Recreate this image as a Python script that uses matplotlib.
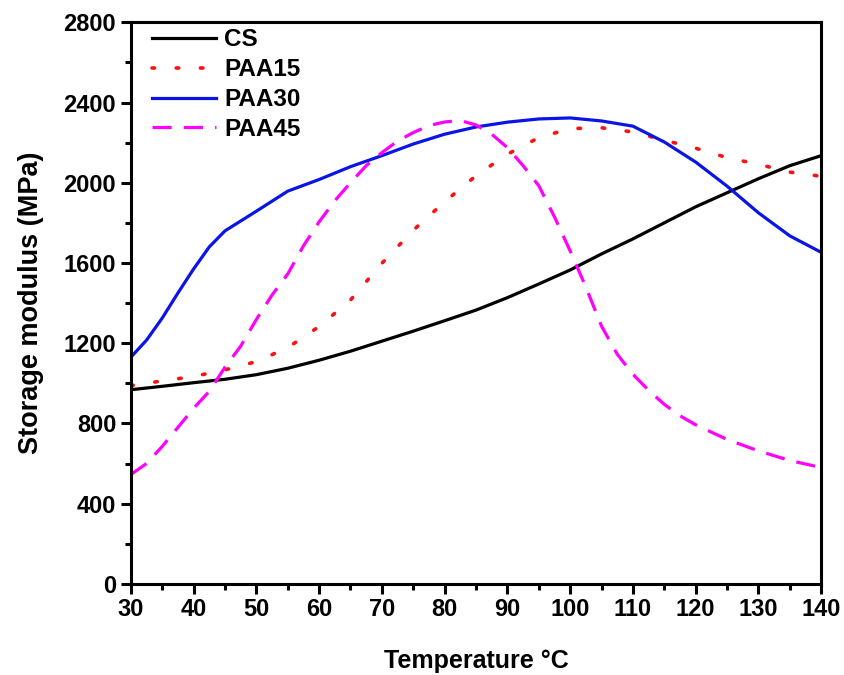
import numpy as np
import matplotlib
matplotlib.use("Agg")
import matplotlib.pyplot as plt
from matplotlib.ticker import MultipleLocator

# data
t_cs = [30, 35, 40, 45, 50, 55, 60, 65, 70, 75, 80, 85, 90, 95, 100, 105,
        110, 115, 120, 125, 130, 135, 140]
e_cs = [968, 985, 1003, 1020, 1043, 1075, 1115, 1160, 1210, 1260, 1312, 1365,
        1427, 1495, 1565, 1645, 1720, 1800, 1880, 1950, 2020, 2085, 2135]

t_paa15 = [30, 35, 40, 45, 50, 55, 60, 65, 70, 75, 80, 85, 90, 95, 100, 105,
           110, 115, 120, 125, 130, 135, 140]
e_paa15 = [988, 1012, 1034, 1067, 1108, 1178, 1283, 1415, 1598, 1763, 1905,
           2035, 2142, 2225, 2270, 2274, 2253, 2212, 2172, 2125, 2092, 2053, 2032]

t_paa30 = [30, 32.5, 35, 37.5, 40, 42.5, 45, 50, 55, 60, 65, 70, 75, 80, 85,
           90, 95, 100, 105, 110, 115, 120, 125, 130, 135, 140]
e_paa30 = [1130, 1215, 1325, 1450, 1570, 1680, 1760, 1858, 1958, 2016, 2080,
           2135, 2193, 2242, 2278, 2302, 2318, 2323, 2308, 2282, 2203, 2103,
           1983, 1850, 1735, 1653]

t_paa45 = [30, 32.5, 35, 37.5, 40, 42.5, 45, 47.5, 50, 52.5, 55, 57.5, 60,
           62.5, 65, 67.5, 70, 72.5, 75, 77.5, 80, 82.5, 85, 87.5, 90, 92.5,
           95, 97.5, 100, 102.5, 105, 107.5, 110, 112.5, 115, 117.5, 120, 125,
           130, 135, 140]
e_paa45 = [545, 600, 685, 780, 875, 960, 1080, 1185, 1318, 1440, 1545, 1685,
           1805, 1910, 2000, 2085, 2150, 2208, 2250, 2285, 2303, 2310, 2288,
           2242, 2175, 2085, 1985, 1830, 1660, 1480, 1285, 1145, 1045, 965,
           895, 838, 793, 720, 663, 615, 580]

plt.rcParams['font.family'] = ['Liberation Sans', 'DejaVu Sans']
plt.rcParams['font.weight'] = 'bold'

fig = plt.figure(figsize=(8.44, 6.75), dpi=100)
ax = fig.add_axes([0.155, 0.135, 0.818, 0.832])

lw = 2.3
ax.plot(t_cs, e_cs, color='black', lw=lw, label='CS')
ax.plot(t_paa15, e_paa15, color='#ff1010', lw=2.6, ls=(0, (0.7, 6.0)),
        dash_capstyle='round', label='PAA15')
ax.plot(t_paa30, e_paa30, color='#0a14e6', lw=lw, label='PAA30')
ax.plot(t_paa45, e_paa45, color='#ff00ff', lw=lw, ls=(0, (6, 3.8)),
        label='PAA45')

ax.set_xlim(30, 140)
ax.set_ylim(0, 2800)
ax.xaxis.set_major_locator(MultipleLocator(10))
ax.xaxis.set_minor_locator(MultipleLocator(5))
ax.yaxis.set_major_locator(MultipleLocator(400))
ax.yaxis.set_minor_locator(MultipleLocator(200))

for s in ax.spines.values():
    s.set_linewidth(2.2)
ax.tick_params(which='both', direction='out', width=2.2, top=False, right=False,
               labelsize=17)
ax.tick_params(which='major', length=7)
ax.tick_params(which='minor', length=4)
for lab in ax.get_xticklabels() + ax.get_yticklabels():
    lab.set_fontweight('bold')

ax.set_xlabel('Temperature \u00b0C', fontsize=18, fontweight='bold', labelpad=20)
ax.set_ylabel('Storage modulus (MPa)', fontsize=19.5, fontweight='bold', labelpad=14)

leg = ax.legend(loc='upper left', frameon=False, fontsize=17.5, handlelength=2.6,
                handletextpad=0.35, labelspacing=0.28, borderaxespad=0.2,
                bbox_to_anchor=(0.01, 1.015))
for t in leg.get_texts():
    t.set_fontweight('bold')

fig.savefig('out.png', dpi=100)
